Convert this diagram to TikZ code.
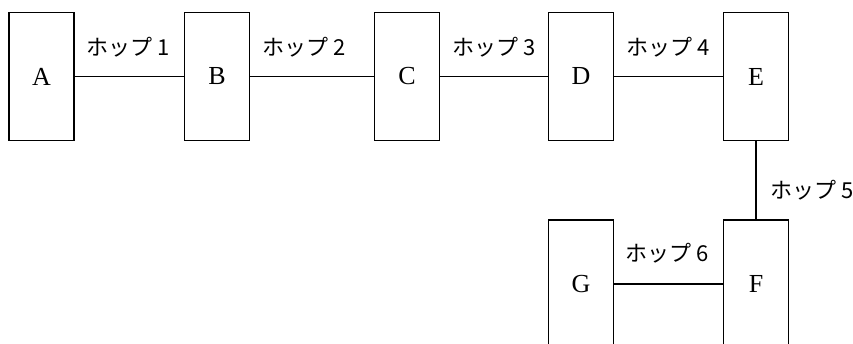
\documentclass[tikz,border=0pt]{standalone}
\usepackage{fontspec}
\setmainfont{Liberation Serif}
\newfontfamily\jpfont{Noto Sans CJK JP}

\tikzstyle{router}=[draw=black,line width=1.5pt,minimum width=65pt,minimum height=128pt,inner sep=0pt,font=\fontsize{26}{26}\selectfont]
\tikzstyle{hop}=[font=\jpfont\fontsize{22}{22}\selectfont,inner sep=0pt]
\tikzstyle{link}=[draw=black,line width=1.5pt]

\begin{document}
\begin{tikzpicture}[x=1pt,y=-1pt]

   \useasboundingbox (0,0) rectangle (853,343);
   \clip (0,0) rectangle (853,343);

   % Upper row

   \node[router] (A) at (41.5,76.5) {A};
   \node[router] (B) at (217,76.5) {B};
   \node[router] (C) at (407,76.5) {C};
   \node[router] (D) at (581,76.5) {D};
   \node[router] (E) at (756,76.5) {E};

   % Lower row

   \node[router] (G) at (581,284) {G};
   \node[router] (F) at (756,284) {F};

   % Hops

   \draw[link] (A.east) -- (B.west);
   \draw[link] (B.east) -- (C.west);
   \draw[link] (C.east) -- (D.west);
   \draw[link] (D.east) -- (E.west);
   \draw[link] (E.south) -- (F.north);
   \draw[link] (G.east) -- (F.west);

   \node[hop] (hop1) at (128,47) {ホップ 1};
   \node[hop] (hop2) at (304,47) {ホップ 2};
   \node[hop] (hop3) at (494,47) {ホップ 3};
   \node[hop] (hop4) at (668,47) {ホップ 4};
   \node[hop] (hop5) at (812,190) {ホップ 5};
   \node[hop] (hop6) at (667,253) {ホップ 6};

\end{tikzpicture}
\end{document}
